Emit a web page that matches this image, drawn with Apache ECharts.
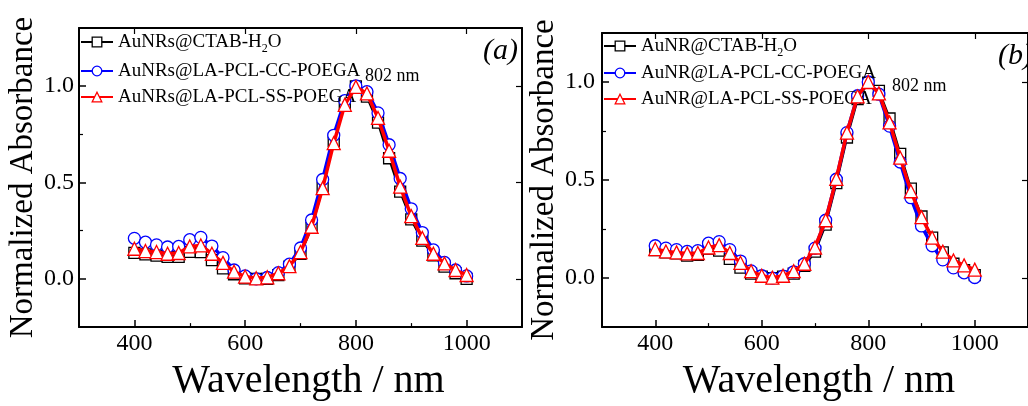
<!DOCTYPE html>
<html><head><meta charset="utf-8">
<script src="https://cdn.jsdelivr.net/npm/echarts@6/dist/echarts.min.js"></script>
<style>html,body{margin:0;padding:0;background:#fff}#c{width:1028px;height:406px}</style>
</head><body><div id="c"></div>
<script>
// ---------- data ----------
const wavelength = [400,420,440,460,480,500,520,540,560,580,600,620,640,660,680,700,720,740,760,780,800,820,840,860,880,900,920,940,960,980,1000];

// panel (a)
const aCTAB = [0.135,0.127,0.120,0.114,0.114,0.140,0.139,0.097,0.054,0.024,0.003,0.000,0.000,0.019,0.063,0.130,0.266,0.473,0.715,0.907,0.998,0.944,0.810,0.625,0.452,0.308,0.198,0.122,0.063,0.029,0.000];
const aCC   = [0.210,0.190,0.176,0.165,0.168,0.203,0.215,0.170,0.110,0.046,0.015,0.000,0.007,0.032,0.076,0.160,0.305,0.515,0.744,0.924,1.000,0.970,0.860,0.695,0.520,0.363,0.240,0.150,0.085,0.046,0.015];
const aSS   = [0.156,0.144,0.139,0.130,0.134,0.168,0.173,0.130,0.083,0.037,0.012,0.003,0.008,0.029,0.066,0.139,0.270,0.470,0.703,0.902,0.995,0.961,0.834,0.664,0.478,0.325,0.212,0.130,0.080,0.046,0.020];

// panel (b)
const bCTAB = [0.143,0.131,0.126,0.115,0.118,0.151,0.140,0.098,0.053,0.023,0.007,0.000,0.007,0.023,0.062,0.135,0.273,0.484,0.717,0.913,0.997,0.955,0.814,0.634,0.456,0.314,0.206,0.131,0.073,0.040,0.015];
const bCC   = [0.165,0.153,0.145,0.136,0.140,0.178,0.186,0.145,0.087,0.037,0.012,0.000,0.010,0.032,0.073,0.153,0.295,0.504,0.742,0.930,1.000,0.938,0.775,0.592,0.410,0.266,0.165,0.093,0.052,0.027,0.003];
const bSS   = [0.148,0.136,0.131,0.126,0.128,0.156,0.168,0.128,0.078,0.035,0.012,0.002,0.012,0.035,0.073,0.156,0.295,0.506,0.742,0.927,1.000,0.942,0.794,0.614,0.443,0.311,0.206,0.135,0.090,0.065,0.043];

const namesA = ['AuNRs@CTAB-H2O','AuNRs@LA-PCL-CC-POEGA','AuNRs@LA-PCL-SS-POEGA'];
const namesB = ['AuNR@CTAB-H2O','AuNR@LA-PCL-CC-POEGA','AuNR@LA-PCL-SS-POEGA'];

const xMajorTicks = [400,600,800,1000];
const xMinorTicks = [500,700,900];
const yMajorTicks = [0,0.5,1.0];
const yMinorTicks = [0.25,0.75];

const peakLabel = '802 nm';
const panelLabels = ['(a)','(b)'];
const xName = 'Wavelength / nm';
const yName = 'Normalized Absorbance';

// ---------- chart ----------
const FONT = "'Liberation Serif','Times New Roman',serif";
const chart = echarts.init(document.getElementById('c'), null, {renderer:'canvas'});

const grids = [
  {left:79, top:28, width:443, height:304},
  {left:602, top:33, width:437, height:300}
];
const yRanges = [[-0.25,1.3],[-0.25,1.25]];
const yNameGaps = [34, 40];
const yLabelMargins = [5, 7];

const xAxes = [], yAxes = [];
grids.forEach((g, gi) => {
  const base = {gridIndex:gi, type:'value', min:300, max:1100, splitLine:{show:false}};
  xAxes.push(Object.assign({}, base, {
    position:'bottom',
    axisLine:{onZero:false, lineStyle:{color:'#000', width:2}},
    axisTick:{inside:true, length:7, customValues:xMajorTicks, lineStyle:{color:'#000', width:1.5}},
    axisLabel:{customValues:xMajorTicks, fontSize:24, fontFamily:FONT, color:'#000', margin:5,
      formatter:v => String(v)},
    name:xName, nameLocation:'middle', nameGap:24,
    nameTextStyle:{fontSize:40, fontFamily:FONT, color:'#000', padding:[0,0,0,gi===0?16:8]}
  }));
  xAxes.push(Object.assign({}, base, {
    position:'bottom',
    axisLine:{show:false, onZero:false},
    axisTick:{inside:true, length:4, customValues:xMinorTicks, lineStyle:{color:'#000', width:1.2}},
    axisLabel:{show:false}
  }));
  xAxes.push(Object.assign({}, base, {
    position:'top',
    axisLine:{onZero:false, lineStyle:{color:'#000', width:2}},
    axisTick:{inside:true, length:6, customValues:xMajorTicks, lineStyle:{color:'#000', width:1.2}},
    axisLabel:{show:false}
  }));

  const ybase = {gridIndex:gi, type:'value', min:yRanges[gi][0], max:yRanges[gi][1], splitLine:{show:false}};
  yAxes.push(Object.assign({}, ybase, {
    position:'left',
    axisLine:{onZero:false, lineStyle:{color:'#000', width:2}},
    axisTick:{inside:true, length:7, customValues:yMajorTicks, lineStyle:{color:'#000', width:1.5}},
    axisLabel:{customValues:yMajorTicks, fontSize:24, fontFamily:FONT, color:'#000', margin:yLabelMargins[gi],
      formatter:v => Number(v).toFixed(1)},
    name:yName, nameLocation:'middle', nameGap:yNameGaps[gi], nameRotate:90,
    nameTextStyle:{fontSize:33, fontFamily:FONT, color:'#000'}
  }));
  yAxes.push(Object.assign({}, ybase, {
    position:'left',
    axisLine:{show:false, onZero:false},
    axisTick:{inside:true, length:4, customValues:yMinorTicks, lineStyle:{color:'#000', width:1.2}},
    axisLabel:{show:false}
  }));
  yAxes.push(Object.assign({}, ybase, {
    position:'right',
    axisLine:{onZero:false, lineStyle:{color:'#000', width:2}},
    axisTick:{inside:true, length:6, customValues:yMajorTicks, lineStyle:{color:'#000', width:1.2}},
    axisLabel:{show:false}
  }));
});

function pairs(vals){ return wavelength.map((w,i)=>[w, vals[i]]); }

const styles = [
  {color:'#000000', symbol:'rect', size:11, width:2.5},
  {color:'#0000ff', symbol:'circle', size:12, width:3.5},
  {color:'#ff0000', symbol:'triangle', size:13, width:3.5}
];
const panelData = [[aCTAB,aCC,aSS],[bCTAB,bCC,bSS]];
const panelNames = [namesA, namesB];

const series = [];
panelData.forEach((set, gi) => {
  set.forEach((vals, si) => {
    const st = styles[si];
    series.push({
      type:'line', name:panelNames[gi][si],
      xAxisIndex:gi*3, yAxisIndex:gi*3,
      data:pairs(vals),
      symbol:st.symbol, symbolSize:st.size, showSymbol:true,
      lineStyle:{color:st.color, width:st.width},
      itemStyle:{color:'#fff', borderColor:st.color, borderWidth:1.3},
      emphasis:{disabled:true},
      z:2+si, animation:false
    });
  });
});

const legendRich = {sub:{fontSize:12, fontFamily:FONT, color:'#000', padding:[14,0,0,0]}};
function legendFmt(n){ return n.endsWith('H2O') ? n.replace('H2O','H{sub|2}O') : n; }
const legendPos = [
  [[80,31],[80,60],[80,86]],
  [[603,35],[603,62],[603,88]]
];
const legends = [];
panelNames.forEach((names, gi) => {
  names.forEach((n, si) => {
    legends.push({
      data:[{name:n, itemStyle:{color:'#fff', borderColor:styles[si].color, borderWidth:1.3}}],
      left:legendPos[gi][si][0], top:legendPos[gi][si][1],
      padding:0, itemWidth:32, itemHeight:12, itemGap:0,
      selectedMode:false,
      formatter:legendFmt,
      textStyle:{fontSize:19, fontFamily:FONT, color:'#000', lineHeight:22, rich:legendRich}
    });
  });
});

const graphics = [
  {type:'text', left:365, top:67, style:{text:peakLabel, font:"18px "+FONT, fill:'#000'}},
  {type:'text', left:892, top:77, style:{text:peakLabel, font:"18px "+FONT, fill:'#000'}},
  {type:'text', left:483, top:36, style:{text:panelLabels[0], font:"italic 30px "+FONT, fill:'#000'}},
  {type:'text', left:998, top:41, style:{text:panelLabels[1], font:"italic 30px "+FONT, fill:'#000'}}
];

chart.setOption({
  animation:false,
  backgroundColor:'#fff',
  grid:grids,
  xAxis:xAxes,
  yAxis:yAxes,
  legend:legends,
  series:series,
  graphic:graphics
});
</script>
</body></html>
